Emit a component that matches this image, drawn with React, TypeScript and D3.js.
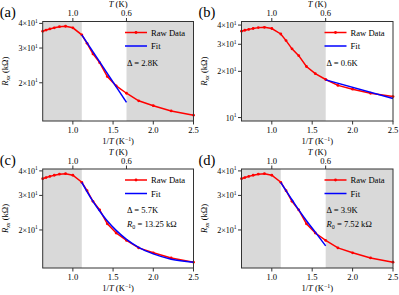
import React from "react"
import * as d3 from "d3"

// raw data, shared by all four panels
const tempK = [1.6, 1.5, 1.4, 1.3, 1.2, 1.1, 1.0, 0.9, 0.85, 0.8, 0.75, 0.7, 0.65, 0.6, 0.55, 0.5, 0.45, 0.4]
const rawR = [36.5, 37.0, 37.5, 38.0, 38.5, 38.7, 38.0, 35.0, 31.7, 28.0, 25.3, 21.5, 19.3, 17.7, 16.2, 15.3, 14.4, 13.7]

// fits
const fitAx = [1.111, 1.667]
const fitAR = [35.0, 15.9]
const fitBx = [1.667, 2.5]
const fitBR = [17.6, 13.3]
const fitCx = [1.111, 1.176, 1.25, 1.333, 1.429, 1.538, 1.667, 1.818, 2.0, 2.222, 2.5]
const fitCR = [35.0, 31.4, 28.0, 25.0, 22.2, 19.9, 17.9, 16.3, 15.1, 14.2, 13.7]
const fitDx = [1.111, 1.176, 1.25, 1.333, 1.429, 1.538, 1.667]
const fitDR = [35.0, 31.7, 28.5, 25.3, 22.3, 19.5, 16.6]

const xTicks = [1.0, 1.5, 2.0, 2.5]
const topTicksT = [1.0, 0.6]
const yTicksACD = [20, 30, 40]
const yTicksB = [10, 20, 30, 40]

const panelLabels = ["(a)", "(b)", "(c)", "(d)"]
const deltas = ["2.8", "0.6", "5.7", "3.9"]
const r0s = [null, null, "13.25", "7.52"]
const shadesA = [[0.625, 1.111], [1.667, 2.5]]
const shadesB = [[0.625, 1.667]]
const shadesC = [[0.625, 1.111]]

const FONT = "Liberation Serif, Times New Roman, serif"
const FS = 8.6

type P = {
  label: string
  x0: number
  x1: number
  y0: number
  y1: number
  yDomain: [number, number]
  yTicks: number[]
  shades: number[][]
  fitX: number[]
  fitR: number[]
  delta: string
  r0: string | null
}

function Panel(p: P) {
  const x = d3.scaleLinear().domain([0.625, 2.5]).range([p.x0, p.x1])
  const y = d3.scaleLog().domain(p.yDomain).range([p.y1, p.y0])
  const raw = tempK.map((t, i) => [1 / t, rawR[i]] as [number, number])
  const fit = p.fitX.map((v, i) => [v, p.fitR[i]] as [number, number])
  const rawPath = d3.line<[number, number]>().x(d => x(d[0])).y(d => y(d[1]))(raw)
  const fitPath = d3
    .line<[number, number]>()
    .x(d => x(d[0]))
    .y(d => y(d[1]))
    .curve(d3.curveMonotoneX)(fit)
  const lx = p.x1 - 68.5
  const tx = p.x1 - 66.5
  const midY = (p.y0 + p.y1) / 2
  return (
    <g fontFamily={FONT} fontSize={FS} fill="#000">
      <text x={p.x0 - 43} y={p.y0 - 4.5} fontSize={14.5}>{p.label}</text>
      {p.shades.map((s, i) => (
        <rect key={i} x={x(s[0])} y={p.y0} width={x(s[1]) - x(s[0])} height={p.y1 - p.y0} fill="#d9d9d9" />
      ))}
      <path d={rawPath || ""} fill="none" stroke="#ff0000" strokeWidth={1.5} />
      {raw.map((d, i) => (
        <circle key={i} cx={x(d[0])} cy={y(d[1])} r={1.4} fill="#ff0000" />
      ))}
      <path d={fitPath || ""} fill="none" stroke="#0000ff" strokeWidth={1.5} />
      <rect x={p.x0} y={p.y0} width={p.x1 - p.x0} height={p.y1 - p.y0} fill="none" stroke="#333" strokeWidth={1} />
      {/* bottom axis */}
      {xTicks.map(t => (
        <g key={t}>
          <line x1={x(t)} x2={x(t)} y1={p.y1} y2={p.y1 + 3.5} stroke="#333" />
          <text x={x(t)} y={p.y1 + 11.5} textAnchor="middle">{t.toFixed(1)}</text>
        </g>
      ))}
      <text x={(p.x0 + p.x1) / 2} y={p.y1 + 23} textAnchor="middle">
        1/<tspan fontStyle="italic">T</tspan> (K<tspan fontSize={5.8} dy={-3.5}>−1</tspan><tspan dy={3.5}>)</tspan>
      </text>
      {/* top axis */}
      {topTicksT.map(t => (
        <g key={t}>
          <line x1={x(1 / t)} x2={x(1 / t)} y1={p.y0} y2={p.y0 - 3.5} stroke="#333" />
          <text x={x(1 / t)} y={p.y0 - 5.5} textAnchor="middle">{t.toFixed(1)}</text>
        </g>
      ))}
      <text x={(p.x0 + p.x1) / 2} y={p.y0 - 14.5} textAnchor="middle">
        <tspan fontStyle="italic">T</tspan> (K)
      </text>
      {/* left axis */}
      {p.yTicks.map(t => (
        <g key={t}>
          <line x1={p.x0} x2={p.x0 - 3.5} y1={y(t)} y2={y(t)} stroke="#333" />
          <text x={p.x0 - 5} y={y(t) + 3} textAnchor="end" fontSize={8}>
            {t === 10 ? "" : `${t / 10}×`}10<tspan fontSize={5.5} dy={-3.5}>1</tspan>
          </text>
        </g>
      ))}
      <text transform={`translate(${p.x0 - 35},${midY}) rotate(-90)`} textAnchor="middle">
        <tspan fontStyle="italic">R</tspan>
        <tspan fontStyle="italic" fontSize={6} dy={2}>xx</tspan>
        <tspan dy={-2}> (kΩ)</tspan>
      </text>
      {/* legend */}
      <line x1={lx} x2={lx + 22} y1={p.y0 + 11} y2={p.y0 + 11} stroke="#ff0000" strokeWidth={1.5} />
      <circle cx={lx + 11} cy={p.y0 + 11} r={1.4} fill="#ff0000" />
      <text x={lx + 26} y={p.y0 + 14}>Raw Data</text>
      <line x1={lx} x2={lx + 22} y1={p.y0 + 24.5} y2={p.y0 + 24.5} stroke="#0000ff" strokeWidth={1.5} />
      <text x={lx + 26} y={p.y0 + 27.5}>Fit</text>
      {/* annotation */}
      <text x={tx} y={p.y0 + 44}>Δ = {p.delta}K</text>
      {p.r0 && (
        <text x={tx} y={p.y0 + 58}>
          <tspan fontStyle="italic">R</tspan>
          <tspan fontSize={6} dy={2}>0</tspan>
          <tspan dy={-2}> = {p.r0} kΩ</tspan>
        </text>
      )}
    </g>
  )
}

export default function App() {
  const cols = [
    [42.7, 193.5],
    [241.5, 393],
  ]
  const rows = [
    [21.5, 121],
    [169, 268],
  ]
  const fx = [fitAx, fitBx, fitCx, fitDx]
  const fr = [fitAR, fitBR, fitCR, fitDR]
  const shades = [shadesA, shadesB, shadesC, shadesA]
  return (
    <svg width={399} height={295} style={{ position: "absolute", left: 0, top: 0, background: "#fff" }}>
      {panelLabels.map((lab, i) => {
        const c = cols[i % 2]
        const r = rows[Math.floor(i / 2)]
        return (
          <Panel
            key={lab}
            label={lab}
            x0={c[0]}
            x1={c[1]}
            y0={r[0]}
            y1={r[1]}
            yDomain={i === 1 ? [9.5, 42.2] : [12.8, 40.9]}
            yTicks={i === 1 ? yTicksB : yTicksACD}
            shades={shades[i]}
            fitX={fx[i]}
            fitR={fr[i]}
            delta={deltas[i]}
            r0={r0s[i]}
          />
        )
      })}
    </svg>
  )
}
